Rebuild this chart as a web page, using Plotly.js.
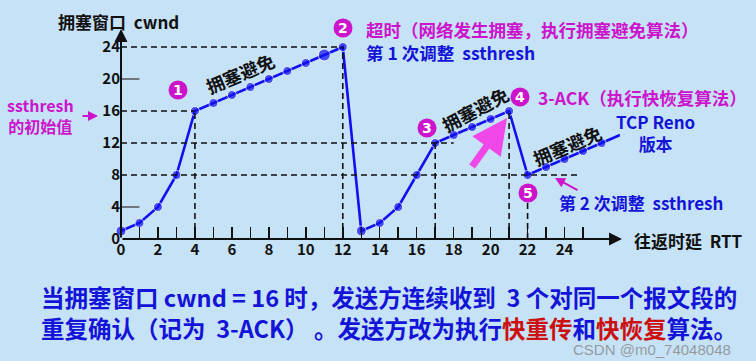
<!DOCTYPE html>
<html>
<head>
<meta charset="utf-8">
<script src="https://cdn.plot.ly/plotly-3.0.1.min.js"></script>
<style>html,body{margin:0;padding:0;background:#c6e2f6;}</style>
</head>
<body>
<div id="chart" style="width:756px;height:361px;"></div>
<script>
// ---- data ----
var rtt  = [0,1,2,3,4,5,6,7,8,9,10,11,12,13,14,15,16,17,18,19,20,21,22,23,24,25,26,27];
var cwnd = [1,2,4,8,16,17,18,19,20,21,22,23,24,1,2,4,8,12,13,14,15,16,8,9,10,11,12,13];
var markerSizes = [10,9,9,9,9,9,9,9,9,9,9,12,9,10,9,9,9,9,9,9,9,9,9,9,9,9,9,0];
var xTickVals = [0,1,2,3,4,5,6,7,8,9,10,11,12,13,14,15,16,17,18,19,20,21,22,23,24,25];
var xTickText = ['0','','2','','4','','6','','8','','10','','12','','14','','16','','18','','20','','22','','24',''];
var yTickVals = [0,4,8,12,16,20,24];
// guide lines: vertical [x, yTop], horizontal [y, xEnd]
var guideV = [[4,16],[12,24],[17,12],[21,16],[22,4.6]];
var guideH = [[24,12],[16,4],[12,18],[8,24.7]];
var yShortTicks = [4,20];

var FONT = '"Noto Sans CJK SC", "Noto Sans", sans-serif';
var MAG = '#cc14cc', BLUE = '#1414d8', BLK = '#111111', RED = '#cc1010';
var L = 121, T = 31, W = 499, H = 208;
function px(x){ return (x - L) / W; }
function py(y){ return (T + H - y) / H; }

var shapes = [];
guideV.forEach(function(g){
  shapes.push({type:'line', xref:'x', yref:'y', x0:g[0], x1:g[0], y0:0, y1:g[1],
    line:{color:BLK, width:1.6, dash:'6px,4px'}});
});
guideH.forEach(function(g){
  shapes.push({type:'line', xref:'x', yref:'y', x0:0, x1:g[1], y0:g[0], y1:g[0],
    line:{color:BLK, width:1.6, dash:'6px,4px'}});
});
yShortTicks.forEach(function(v){
  shapes.push({type:'line', xref:'x', yref:'y', x0:0, x1:1, y0:v, y1:v,
    line:{color:'#555555', width:1.5}});
});
// numbered circles
var circles = [['1',178,90],['2',343,28],['3',427,128],['4',520,97],['5',528,193]];
circles.forEach(function(c){
  shapes.push({type:'circle', xref:'paper', yref:'paper', xsizemode:'pixel', ysizemode:'pixel',
    xanchor:px(c[1]), yanchor:py(c[2]), x0:-9.5, x1:9.5, y0:-9.5, y1:9.5,
    fillcolor:MAG, line:{width:0}});
});

var ann = [];
function txt(s, x, y, opts){
  var a = Object.assign({text:s, xref:'paper', yref:'paper', x:px(x), y:py(y),
    showarrow:false, xanchor:'center', yanchor:'middle',
    font:{family:FONT, size:17, color:BLK, weight:'bold'}}, opts||{});
  ann.push(a);
}
circles.forEach(function(c){
  txt(c[0], c[1], c[2], {font:{family:'"DejaVu Sans", sans-serif', size:14, color:'#ffffff', weight:'bold'}});
});
// axes with arrowheads
ann.push({xref:'paper', yref:'paper', x:px(622), y:py(239), ax:-501, ay:0, text:'', showarrow:true,
  arrowhead:2, arrowsize:1.3, arrowwidth:2, arrowcolor:BLK});
ann.push({xref:'paper', yref:'paper', x:px(121), y:py(29), ax:0, ay:210, text:'', showarrow:true,
  arrowhead:2, arrowsize:1.3, arrowwidth:2, arrowcolor:BLK});

function F(size, color){ return {family:FONT, size:size, color:color, weight:'bold'}; }
function span(s, c){ return '<span style="color:' + c + '">' + s + '</span>'; }
txt('拥塞窗口  cwnd', 118, 22, {font:F(17, BLK)});
txt('往返时延  RTT', 688, 240, {font:F(17, BLK)});
txt('ssthresh<br>的初始值', 40, 115, {font:F(16, MAG)});
ann.push({xref:'paper', yref:'paper', x:px(98), y:py(116), ax:-17, ay:0, text:'', showarrow:true,
  arrowhead:2, arrowsize:1, arrowwidth:2, arrowcolor:MAG});
txt('拥塞避免', 240, 73, {textangle:-23, font:F(18, BLK)});
txt('拥塞避免', 475, 109, {textangle:-28, font:F(18, BLK)});
txt('拥塞避免', 567, 145, {textangle:-23, font:F(18, BLK)});
txt(span('超时（网络发生拥塞，执行拥塞避免算法）', MAG) + '<br>' + span('第 1 次调整  ssthresh', BLUE),
    364, 41, {xanchor:'left', align:'left', font:F(17.5, MAG)});
txt('3-ACK（执行快恢复算法）', 536, 97, {xanchor:'left', font:F(17.5, MAG)});
txt('TCP Reno<br>版本', 655, 132, {font:F(17, BLUE)});
txt('第 2 次调整  ssthresh', 557, 202, {xanchor:'left', font:F(17, BLUE)});
ann.push({xref:'paper', yref:'paper', x:px(555), y:py(178), ax:24, ay:13, text:'', showarrow:true,
  arrowhead:2, arrowsize:1, arrowwidth:2, arrowcolor:MAG});
ann.push({xref:'paper', yref:'paper', x:px(507), y:py(118), ax:-36, ay:50, text:'', showarrow:true,
  arrowhead:2, arrowsize:1, arrowwidth:7, arrowcolor:'#f048e8'});
txt('当拥塞窗口 cwnd = 16 时，发送方连续收到  3 个对同一个报文段的<br>' +
    '重复确认（记为  3-ACK） 。发送方改为执行' + span('快重传', RED) + '和' + span('快恢复', RED) + '算法。',
    39, 312, {xanchor:'left', align:'left', font:F(23.5, BLUE)});
txt('CSDN @m0_74048048', 652, 349, {font:{family:'"Liberation Sans", Arial, sans-serif', size:15, color:'rgba(140,140,140,0.85)', weight:'normal'}});

var trace = {
  x: rtt, y: cwnd, type:'scatter', mode:'lines+markers',
  line:{color:'#1010f0', width:2.6},
  marker:{color:'#1010f0', size:markerSizes},
  cliponaxis:false, hoverinfo:'skip'
};

var layout = {
  width:756, height:361,
  margin:{l:L, r:756-L-W, t:T, b:361-T-H, pad:0},
  paper_bgcolor:'#c6e2f6', plot_bgcolor:'#c6e2f6',
  showlegend:false,
  font:{family:FONT, size:15, color:BLK, weight:'bold'},
  xaxis:{range:[0,27], tickvals:xTickVals, ticktext:xTickText, ticks:'inside', ticklen:12,
    tickwidth:1.5, tickcolor:BLK, showgrid:false, zeroline:false, showline:false,
    tickfont:{family:FONT, size:15, color:BLK, weight:'bold'}, fixedrange:true},
  yaxis:{range:[0,26], tickvals:yTickVals, ticks:'', showgrid:false, zeroline:false, showline:false,
    tickfont:{family:FONT, size:15, color:BLK, weight:'bold'}, fixedrange:true},
  shapes: shapes,
  annotations: ann
};
Plotly.newPlot('chart', [trace], layout, {displayModeBar:false, staticPlot:true});
</script>
</body>
</html>
